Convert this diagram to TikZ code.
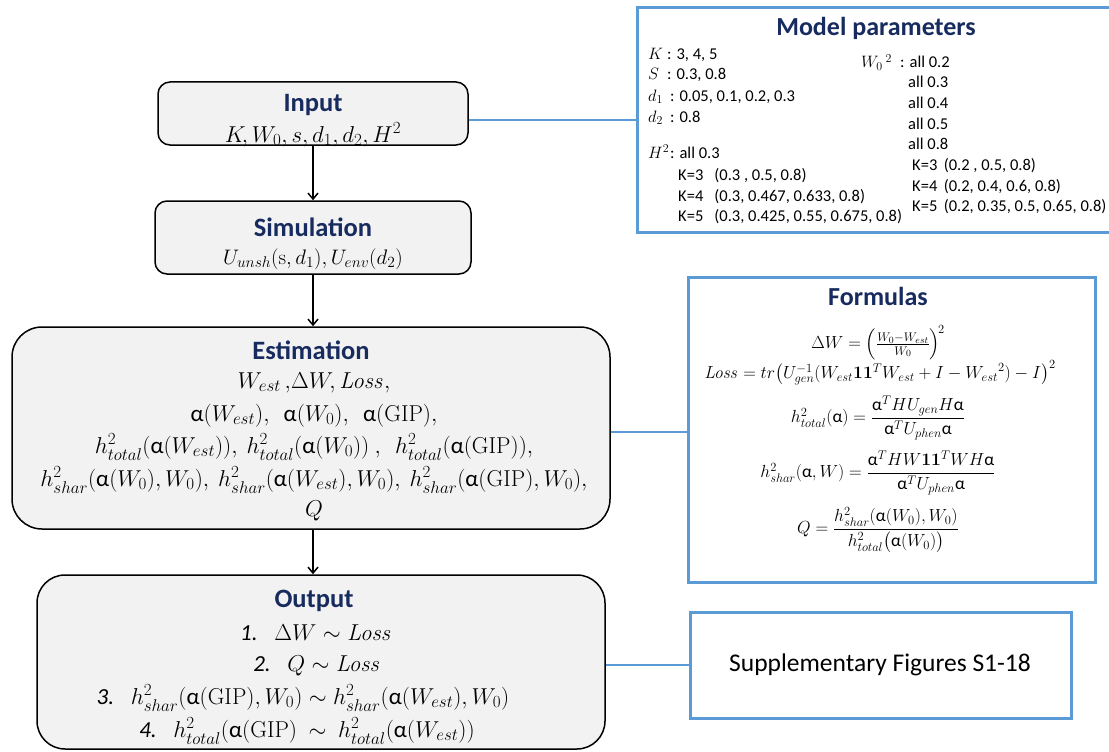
\RequirePackage{fix-cm}
\documentclass[tikz,border=0pt]{standalone}
\usepackage{amsmath}
\usepackage[no-math]{fontspec}
\setmainfont{Carlito}
\usetikzlibrary{arrows.meta}
\DeclareMathSizes{23}{23}{17}{13}
\DeclareMathSizes{21}{21}{15.5}{12}
\DeclareMathSizes{17.5}{17.5}{12.5}{9.5}
\DeclareMathSizes{16.5}{16.5}{12}{9}
\definecolor{blueline}{RGB}{91,155,213}
\definecolor{navy}{RGB}{23,43,95}
\definecolor{boxfill}{RGB}{242,242,242}
\newcommand\ga{\textup{α}}
\tikzset{
  flowbox/.style={draw=black, line width=1.5pt, fill=boxfill, rounded corners=12pt, inner sep=0pt},
  bluebox/.style={draw=blueline, line width=3pt, fill=white, inner sep=0pt},
  ttl/.style={font=\fontsize{26.5}{30}\selectfont\bfseries, text=navy, inner sep=0pt},
  body/.style={font=\fontsize{23}{27}\selectfont, inner sep=0pt, anchor=base},
  par/.style={font=\fontsize{16.5}{20}\selectfont, inner sep=0pt, anchor=base west},
  frm/.style={font=\fontsize{17.5}{21}\selectfont, inner sep=0pt},
  link/.style={draw=blueline, line width=2pt},
  flow/.style={draw=black, line width=1.5pt, -{Straight Barb[length=6pt,width=10pt]}}
}
\begin{document}
\begin{tikzpicture}[x=1pt,y=-1pt]
\useasboundingbox (0,0) rectangle (1109,752);
% boxes
\node[flowbox, minimum width=310pt, minimum height=63pt] (input) at (313,113.5) {};
\node[flowbox, minimum width=316pt, minimum height=73pt] (sim) at (313,237.5) {};
\node[flowbox, rounded corners=30pt, minimum width=598pt, minimum height=202pt] (est) at (311,428) {};
\node[flowbox, rounded corners=28pt, minimum width=568pt, minimum height=174pt] (out) at (321,662) {};
\node[bluebox, minimum width=475pt, minimum height=224pt] (model) at (874.5,120) {};
\node[bluebox, minimum width=407pt, minimum height=305pt] (formulas) at (891.5,429.5) {};
\node[bluebox, minimum width=381pt, minimum height=106pt] (supp) at (880.5,665) {};
% connectors
\draw[link] (input.east |- model.west) -- (model.west);
\draw[link] (est.east) ++(0,4) coordinate (estR) -- (formulas.west |- estR);
\draw[link] (out.east |- supp.west) -- (supp.west);
\draw[flow] (input.south) -- (sim.north);
\draw[flow] (sim.south) -- (sim.south |- est.north);
\draw[flow] (sim.south |- est.south) -- (sim.south |- out.north);
% input
\node[ttl] (tIn) at (313,105) {Input};
\node[body] (lIn) at (313,142) {$K\!, W_0, s, d_1, d_2, H^2$};
% simulation
\node[ttl] (tSim) at (313,227) {Simulation};
\node[body, font=\fontsize{21}{25}\selectfont] (lSim) at (313,264) {$U_{unsh}(\mathrm{s},d_1), U_{env}(d_2)$};
% estimation
\node[ttl] (tEst) at (311,350) {Estimation};
\node[body] (e1) at (314,388) {$W_{est}\,,\!\Delta W\!, \mathit{Loss},$};
\node[body] (e2) at (314,421) {$\ga(W_{est}),\ \ \ga(W_0),\ \ \ga(\mathrm{GIP}),$};
\node[body] (e3) at (314,453) {$h^2_{total}(\ga(W_{est})),\ h^2_{total}(\ga(W_0))\ ,\ \ h^2_{total}(\ga(\mathrm{GIP})),$};
\node[body] (e4) at (314,486) {$h^2_{shar}(\ga(W_0),W_0),\ h^2_{shar}(\ga(W_{est}),W_0),\ h^2_{shar}(\ga(\mathrm{GIP}),W_0),$};
\node[body] (e5) at (314,516) {$Q$};
% output
\node[ttl] (tOut) at (314,601) {Output};
\node[body] (o1) at (316,640) {\textit{1.}\enspace\ $\Delta W \sim \mathit{Loss}$};
\node[body] (o2) at (317,671) {\textit{2.}\enspace\ $Q \sim \mathit{Loss}$};
\node[body] (o3) at (303,704) {\textit{3.}\enspace\ $h^2_{shar}(\ga(\mathrm{GIP}),W_0)\sim h^2_{shar}(\ga(W_{est}),W_0)$};
\node[body] (o4) at (307,737) {\textit{4.}\enspace\ $h^2_{total}(\ga(\mathrm{GIP})\ \sim\ h^2_{total}(\ga(W_{est}))$};
% model parameters
\node[ttl, font=\fontsize{26}{30}\selectfont\bfseries] (tMod) at (876,28) {Model parameters};
\node[par] (pK) at (648,60) {$K$};
\node[par] (vK) at (667,60) {: 3, 4, 5};
\node[par] (pS) at (648,80) {$S$};
\node[par] (vS) at (667,80) {: 0.3, 0.8};
\node[par] (pd1) at (648,101) {$d_1$};
\node[par] (vd1) at (670,101) {: 0.05, 0.1, 0.2, 0.3};
\node[par] (pd2) at (648,122) {$d_2$};
\node[par] (vd2) at (670,122) {: 0.8};
\node[par] (pH) at (648,158) {$H^2$};
\node[par] (vH) at (670,158) {: all 0.3};
\node[par] (h3) at (678,180) {K=3\;\, (0.3 , 0.5, 0.8)};
\node[par] (h4) at (678,201) {K=4\;\, (0.3, 0.467, 0.633, 0.8)};
\node[par] (h5) at (678,221) {K=5\;\, (0.3, 0.425, 0.55, 0.675, 0.8)};
\node[par] (pW) at (861,68) {$W_0\,^2$};
\node[par] (vW) at (900,68) {: all 0.2};
\node[par] (w3) at (908,88) {all 0.3};
\node[par] (w4) at (908,108) {all 0.4};
\node[par] (w5) at (908,129) {all 0.5};
\node[par] (w8) at (908,149) {all 0.8};
\node[par] (k3) at (912,170) {K=3\, (0.2 , 0.5, 0.8)};
\node[par] (k4) at (912,191) {K=4\, (0.2, 0.4, 0.6, 0.8)};
\node[par] (k5) at (912,211) {K=5\, (0.2, 0.35, 0.5, 0.65, 0.8)};
% formulas
\node[ttl, font=\fontsize{26}{30}\selectfont\bfseries] (tFor) at (878,296) {Formulas};
\node[frm] (f1) at (878,343) {$\Delta W = \Bigl(\frac{W_0-W_{est}}{W_0}\Bigr)^{\!2}$};
\node[frm] (f2) at (880,373) {$\mathit{Loss} = tr\bigl(U_{gen}^{-1}(W_{est}\mathbf{1}\mathbf{1}^T W_{est} + I - {W_{est}}^2) - I\bigr)^2$};
\node[frm] (f3) at (878,418) {$h^2_{total}(\ga) = \dfrac{\ga^T H U_{gen} H \ga}{\ga^T U_{phen} \ga}$};
\node[frm] (f4) at (878,473) {$h^2_{shar}(\ga,W) = \dfrac{\ga^T H W \mathbf{1}\mathbf{1}^T W H \ga}{\ga^T U_{phen} \ga}$};
\node[frm] (f5) at (878,530) {$Q = \dfrac{h^2_{shar}(\ga(W_0),W_0)}{h^2_{total}\bigl(\ga(W_0)\bigr)}$};
% supplementary
\node[font=\fontsize{25.5}{30}\selectfont, inner sep=0pt] (tSup) at (880,665) {Supplementary Figures S1-18};
\end{tikzpicture}
\end{document}
